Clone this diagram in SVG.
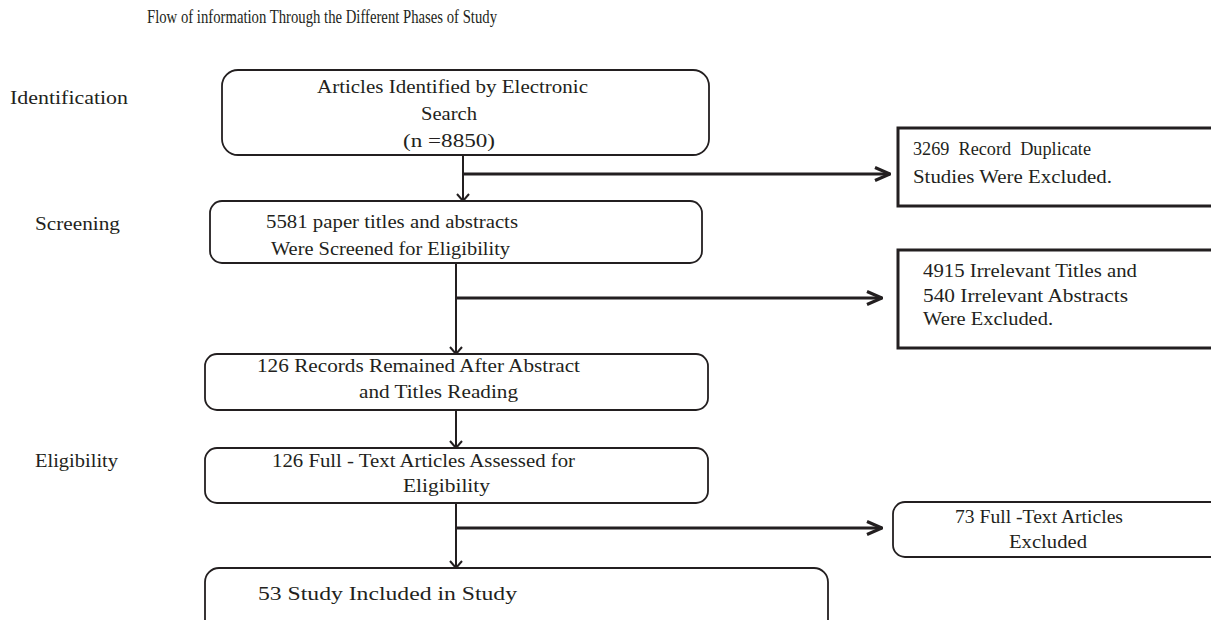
<svg xmlns="http://www.w3.org/2000/svg" width="1211" height="620" viewBox="0 0 1211 620">
<style>
text{font-family:"Liberation Serif","Times New Roman",serif;font-size:18px;fill:#231f20;}
.t{font-size:18.5px;}
.pre{white-space:pre;}
.box{fill:#fff;stroke:#231f20;stroke-width:1.8;}
.xbox{fill:#fff;stroke:#231f20;stroke-width:3;}
.v{stroke:#231f20;stroke-width:2;fill:none;}
.h{stroke:#231f20;stroke-width:3.2;fill:none;}
</style>
<defs>
<marker id="ad" viewBox="0 0 14 14" refX="13" refY="7" markerWidth="14" markerHeight="14" markerUnits="userSpaceOnUse" orient="auto">
<path d="M6,1 L13,7 L6,13" fill="none" stroke="#231f20" stroke-width="2"/>
</marker>
<marker id="ah" viewBox="0 0 20 16" refX="19" refY="8" markerWidth="20" markerHeight="16" markerUnits="userSpaceOnUse" orient="auto">
<path d="M4,1.5 L19,8 L4,14.5" fill="none" stroke="#231f20" stroke-width="3.2"/>
</marker>
</defs>

<text class="t" x="147" y="23" textLength="350" lengthAdjust="spacingAndGlyphs">Flow of information Through the Different Phases of Study</text>

<g id="phase-labels">
<text x="10" y="104" textLength="118" lengthAdjust="spacingAndGlyphs">Identification</text>
<text x="35" y="230" textLength="85" lengthAdjust="spacingAndGlyphs">Screening</text>
<text x="35" y="467" textLength="83" lengthAdjust="spacingAndGlyphs">Eligibility</text>
</g>

<g id="connectors">
<line class="v" x1="463" y1="155" x2="463" y2="201" marker-end="url(#ad)"/>
<line class="h" x1="463" y1="174" x2="890" y2="174" marker-end="url(#ah)"/>
<line class="v" x1="456" y1="263" x2="456" y2="354" marker-end="url(#ad)"/>
<line class="h" x1="456" y1="298" x2="882" y2="298" marker-end="url(#ah)"/>
<line class="v" x1="456" y1="410" x2="456" y2="448" marker-end="url(#ad)"/>
<line class="v" x1="456" y1="503" x2="456" y2="568" marker-end="url(#ad)"/>
<line class="h" x1="456" y1="528" x2="882" y2="528" marker-end="url(#ah)"/>
</g>

<g id="n-identified">
<rect class="box" x="222" y="70" width="487" height="85" rx="16"/>
<text x="317" y="93" textLength="271" lengthAdjust="spacingAndGlyphs">Articles Identified by Electronic</text>
<text x="421" y="120" textLength="56" lengthAdjust="spacingAndGlyphs">Search</text>
<text x="403" y="147" textLength="92" lengthAdjust="spacingAndGlyphs">(n =8850)</text>
</g>

<g id="n-duplicates">
<rect class="xbox" x="898" y="128" width="330" height="78"/>
<text class="pre" x="913" y="155" textLength="178" lengthAdjust="spacingAndGlyphs">3269  Record  Duplicate</text>
<text x="913" y="183" textLength="199" lengthAdjust="spacingAndGlyphs">Studies Were Excluded.</text>
</g>

<g id="n-screened">
<rect class="box" x="210" y="201" width="492" height="62" rx="12"/>
<text x="266" y="228" textLength="252" lengthAdjust="spacingAndGlyphs">5581 paper titles and abstracts</text>
<text x="271" y="255" textLength="239" lengthAdjust="spacingAndGlyphs">Were Screened for Eligibility</text>
</g>

<g id="n-irrelevant">
<rect class="xbox" x="898" y="250" width="330" height="98"/>
<text x="923" y="277" textLength="214" lengthAdjust="spacingAndGlyphs">4915 Irrelevant Titles and</text>
<text x="923" y="302" textLength="205" lengthAdjust="spacingAndGlyphs">540 Irrelevant Abstracts</text>
<text x="923" y="325" textLength="130" lengthAdjust="spacingAndGlyphs">Were Excluded.</text>
</g>

<g id="n-remained">
<rect class="box" x="205" y="354" width="503" height="56" rx="12"/>
<text x="257" y="372" textLength="323" lengthAdjust="spacingAndGlyphs">126 Records Remained After Abstract</text>
<text x="359" y="398" textLength="159" lengthAdjust="spacingAndGlyphs">and Titles Reading</text>
</g>

<g id="n-fulltext">
<rect class="box" x="205" y="448" width="503" height="55" rx="12"/>
<text x="272" y="467" textLength="303" lengthAdjust="spacingAndGlyphs">126 Full - Text Articles Assessed for</text>
<text x="403" y="492" textLength="87" lengthAdjust="spacingAndGlyphs">Eligibility</text>
</g>

<g id="n-excluded">
<rect class="box" x="893" y="502" width="340" height="55" rx="12"/>
<text x="955" y="523" textLength="168" lengthAdjust="spacingAndGlyphs">73 Full -Text Articles</text>
<text x="1009" y="548" textLength="78" lengthAdjust="spacingAndGlyphs">Excluded</text>
</g>

<g id="n-included">
<rect class="box" x="205" y="568" width="623" height="80" rx="14"/>
<text x="258" y="600" textLength="259" lengthAdjust="spacingAndGlyphs">53 Study Included in Study</text>
</g>
</svg>
